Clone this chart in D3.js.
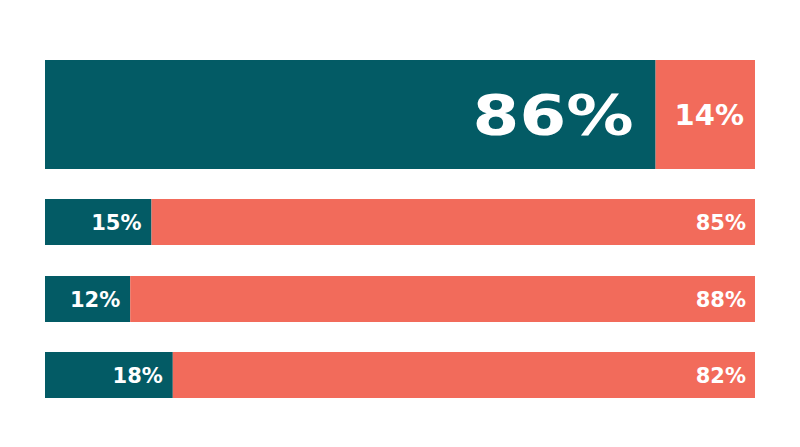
<!DOCTYPE html>
<html><head><meta charset="utf-8">
<script src="https://cdn.jsdelivr.net/npm/d3@7"></script>
<style>body{margin:0;background:#fff}svg{display:block}</style>
</head><body>
<svg id="c" width="800" height="447"></svg>
<script>
const rows = ["r1","r2","r3","r4"];
const leftValues = [86, 15, 12, 18];
const rightValues = [14, 85, 88, 82];
const bandTops = [60, 199, 276, 352];
const bandHeights = [109, 46, 46, 46];

const svg = d3.select("#c");
const x = d3.scaleLinear().domain([0,100]).range([45,755]);
const teal = "#035b65", coral = "#f26b5b";
const font = "'DejaVu Sans', sans-serif";

rows.forEach((r,i)=>{
  const y0 = bandTops[i], h = bandHeights[i];
  const big = i===0;
  const xb = x(leftValues[i]);
  svg.append("rect").attr("x",x(0)).attr("y",y0).attr("width",xb-x(0)).attr("height",h).attr("fill",teal);
  svg.append("rect").attr("x",xb).attr("y",y0).attr("width",x(100)-xb).attr("height",h).attr("fill",coral);
  const lt = svg.append("text").attr("x",xb-(big?22:10)).attr("y",y0+h/2).attr("dy","0.36em")
    .attr("text-anchor","end").attr("fill","#fff").attr("font-family",font).attr("font-weight",700)
    .attr("font-size",big?55:21).text(leftValues[i]+"%");
  if (big) lt.attr("textLength",161).attr("lengthAdjust","spacingAndGlyphs");
  svg.append("text").attr("x",x(100)-(big?11:9)).attr("y",y0+h/2).attr("dy","0.36em")
    .attr("text-anchor","end").attr("fill","#fff").attr("font-family",font).attr("font-weight",700)
    .attr("font-size",big?29:21).text(rightValues[i]+"%");
});
</script>
</body></html>
